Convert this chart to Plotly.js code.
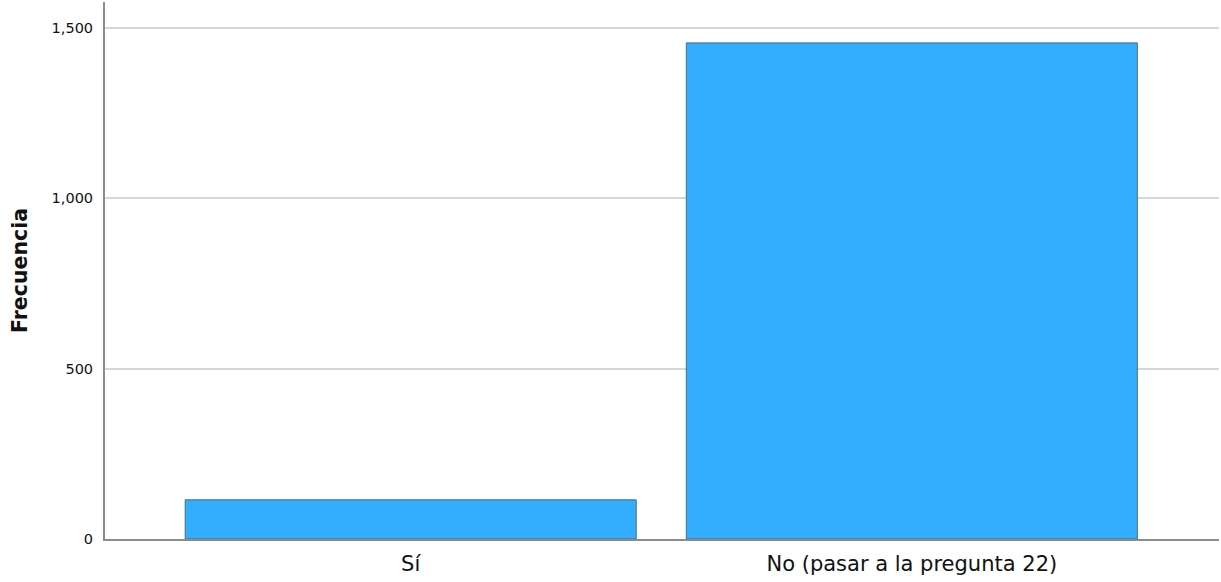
<!DOCTYPE html>
<html>
<head>
<meta charset="utf-8">
<script src="https://cdn.plot.ly/plotly-3.0.1.min.js"></script>
<style>html,body{margin:0;padding:0;background:#fff;}#chart{width:1221px;height:582px;}</style>
</head>
<body>
<div id="chart"></div>
<script>
const categories = ["Sí", "No (pasar a la pregunta 22)"];
const frecuencia = [115, 1456];
const yTickVals = [0, 500, 1000, 1500];
const yTickText = ["0", "500", "1,000", "1,500"];

const trace = {
  type: "bar",
  x: categories,
  y: frecuencia,
  width: 0.9,
  marker: { color: "#33aefe", line: { color: "#4a6b80", width: 1 } },
  hoverinfo: "x+y"
};

const layout = {
  width: 1221,
  height: 582,
  margin: { l: 105, r: 2, t: 2, b: 43 },
  paper_bgcolor: "#ffffff",
  plot_bgcolor: "#ffffff",
  showlegend: false,
  font: { family: "DejaVu Sans, sans-serif", color: "#000" },
  xaxis: {
    type: "category",
    range: [-0.61, 1.613],
    showgrid: false,
    showline: true,
    linecolor: "#8c8c8c",
    linewidth: 2,
    ticks: "",
    tickfont: { size: 21, family: "DejaVu Sans, sans-serif", color: "#111" },
    ticklabelstandoff: 5
  },
  yaxis: {
    range: [0, 1576],
    tickvals: yTickVals,
    ticktext: yTickText,
    showgrid: true,
    gridcolor: "#d6d6d6",
    gridwidth: 2,
    zeroline: false,
    showline: true,
    linecolor: "#8c8c8c",
    linewidth: 2,
    ticks: "",
    tickfont: { size: 14.5, family: "DejaVu Sans, sans-serif", color: "#111" },
    ticklabelstandoff: 7,
    title: { text: "<b>Frecuencia</b>", font: { size: 20.5, family: "DejaVu Sans, sans-serif", color: "#111" }, standoff: 18 }
  }
};

Plotly.newPlot("chart", [trace], layout, { displayModeBar: false, staticPlot: true });
</script>
</body>
</html>
